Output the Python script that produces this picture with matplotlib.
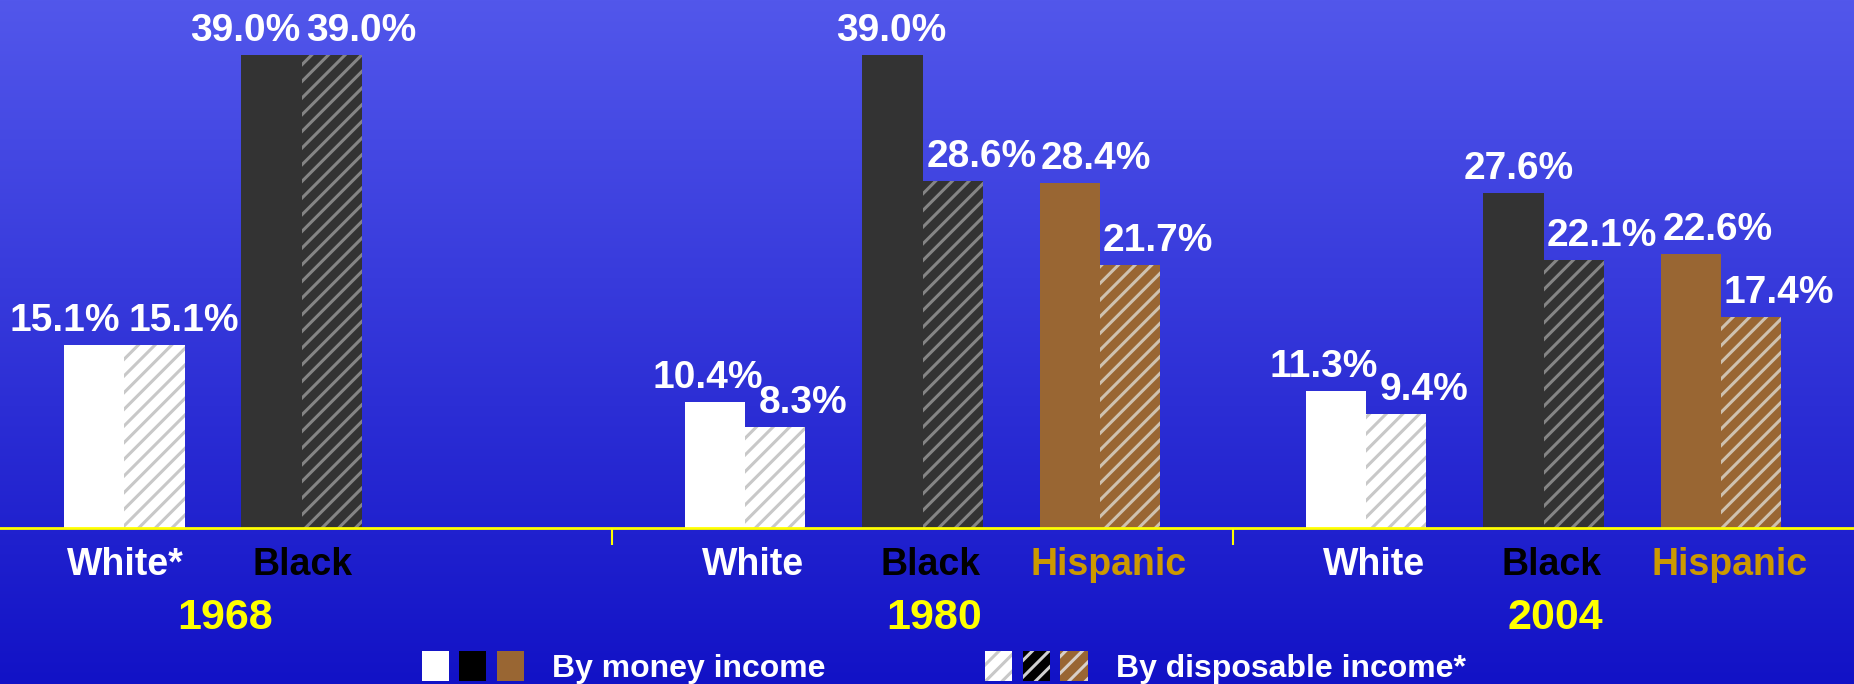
import numpy as np
import matplotlib
matplotlib.use('Agg')
import matplotlib.pyplot as plt
from matplotlib.patches import Patch
from matplotlib.legend_handler import HandlerTuple

plt.rcParams['font.family'] = ['Liberation Sans', 'DejaVu Sans']
plt.rcParams['font.weight'] = 'bold'
plt.rcParams['hatch.linewidth'] = 2.2

# poverty rates, by money income vs by disposable income
years = ['1968', '1980', '2004']
cats_1968 = ['White*', 'Black']
cats_1980 = ['White', 'Black', 'Hispanic']
cats_2004 = ['White', 'Black', 'Hispanic']
money_1968 = [15.1, 39.0]
money_1980 = [10.4, 39.0, 28.4]
money_2004 = [11.3, 27.6, 22.6]
disp_1968 = [15.1, 39.0]
disp_1980 = [8.3, 28.6, 21.7]
disp_2004 = [9.4, 22.1, 17.4]

cats = [cats_1968, cats_1980, cats_2004]
money = [money_1968, money_1980, money_2004]
disp = [disp_1968, disp_1980, disp_2004]

# styles
fill = {'White': '#ffffff', 'Black': '#333333', 'Hispanic': '#996633'}
hatch_col = {'White': '#c8c8c8', 'Black': '#858585', 'Hispanic': '#cfc2b0'}
label_col = {'White': '#ffffff', 'Black': '#000000', 'Hispanic': '#cc9900'}
money_dx = [[-21, -19], [-5, -1, 19], [-8.5, 4, 19.5]]  # label nudges (pt)
disp_dx = [[21, 21], [20, 21, 20], [20, 20, 20]]
cat_dx = [1, 6, 6]
group_start = [0, 3.5, 7]
w = 0.34

fig = plt.figure(figsize=(18.54, 6.84), dpi=100)

# gradient background
bg = fig.add_axes([0, 0, 1, 1])
top = np.array([0x52, 0x57, 0xeb]) / 255
bot = np.array([0x12, 0x12, 0xc6]) / 255
t = np.linspace(0, 1, 256)[:, None]
grad = top * (1 - t) + bot * t
bg.imshow(grad[:, None, :], aspect='auto', extent=[0, 1, 0, 1])
bg.set_axis_off()

ax = fig.add_axes([0, 1 - 528 / 684, 1, 528 / 684])
ax.set_facecolor('none')

for g in range(3):
    for i, c in enumerate(cats[g]):
        x = group_start[g] + i
        key = c.rstrip('*')
        m, d = money[g][i], disp[g][i]
        ax.bar(x - w / 2, m, width=w, color=fill[key], linewidth=0)
        ax.bar(x + w / 2, d, width=w, color=fill[key], edgecolor=hatch_col[key],
               hatch='//', linewidth=0)
        ax.annotate(f'{m:.1f}%', (x - w / 2, m), xytext=(money_dx[g][i], 10),
                    textcoords='offset points', ha='center', va='baseline',
                    color='white', fontsize=28, fontweight='bold')
        ax.annotate(f'{d:.1f}%', (x + w / 2, d), xytext=(disp_dx[g][i], 10),
                    textcoords='offset points', ha='center', va='baseline',
                    color='white', fontsize=28, fontweight='bold')
        # category name under the axis
        ax.annotate(c, (x, 0), xycoords=('data', 'axes fraction'),
                    xytext=(cat_dx[g], -34), textcoords='offset points',
                    ha='center', va='baseline', color=label_col[key],
                    fontsize=27, fontweight='bold')
    ax.annotate(years[g], (group_start[g] + (len(cats[g]) - 1) / 2, 0),
                xycoords=('data', 'axes fraction'), xytext=(8.5, -73),
                textcoords='offset points', ha='center', va='baseline',
                color='#ffff00', fontsize=31, fontweight='bold')

ax.set_xlim(-0.7, 9.75)
ax.set_ylim(0, 43.5)
ax.set_yticks([])
ax.set_xticks([2.75, 6.25])
ax.set_xticklabels([])
ax.tick_params(axis='x', length=12, width=1.5, color='#ffff00')
for s in ['top', 'left', 'right']:
    ax.spines[s].set_visible(False)
ax.spines['bottom'].set_color('#ffff00')
ax.spines['bottom'].set_linewidth(2)

# legend
mh = tuple(Patch(facecolor=c, linewidth=0) for c in ['#ffffff', '#000000', '#996633'])
dh = tuple(Patch(facecolor=c, edgecolor=h, hatch='//', linewidth=0)
           for c, h in [('#ffffff', '#c8c8c8'), ('#000000', '#d0d0d0'), ('#996633', '#d8d0c8')])
leg = fig.legend([mh, dh], ['By money income', 'By disposable income*'],
                 handler_map={tuple: HandlerTuple(ndivide=None, pad=0.33)},
                 loc='center', bbox_to_anchor=(0.509, 0.024), ncol=2, frameon=False,
                 fontsize=23, handlelength=3.2, handleheight=1.05,
                 handletextpad=0.88, columnspacing=5.0, borderpad=0)
for txt in leg.get_texts():
    txt.set_color('white')
    txt.set_fontweight('bold')

fig.savefig('out.png', dpi=100)
